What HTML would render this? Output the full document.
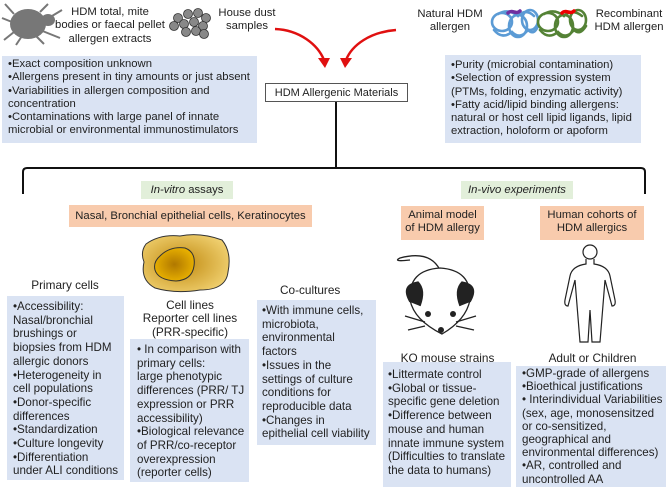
<!DOCTYPE html>
<html><head><meta charset="utf-8"><style>
body{margin:0;width:669px;height:496px;background:#fff;position:relative;overflow:hidden;font-family:"Liberation Sans",Arial,sans-serif;color:#222}
.a{position:absolute;font-size:11.3px;line-height:13.3px;white-space:nowrap}
.b{background:#dae3f3;box-sizing:border-box;font-size:11.6px;line-height:13.7px;overflow:hidden}
.g{background:#e2efda;text-align:center}
.o{background:#f8cbad;text-align:center}
.c{text-align:center}
</style></head><body>
<svg width="669" height="496" style="position:absolute;left:0;top:0">
<defs><radialGradient id="cg" cx="0.45" cy="0.5" r="0.6"><stop offset="0" stop-color="#c08a10"/><stop offset="1" stop-color="#f0d070"/></radialGradient>
<radialGradient id="ng" cx="0.5" cy="0.5" r="0.6"><stop offset="0" stop-color="#b07800"/><stop offset="1" stop-color="#f0b800"/></radialGradient></defs>
<ellipse cx="28" cy="24" rx="18" ry="15" fill="#777"/>
<ellipse cx="48" cy="20" rx="7" ry="6" fill="#777"/>
<g stroke="#777" stroke-width="2" fill="none">
<path d="M14 14 L5 4 M12 22 L2 18 M14 32 L4 40 M22 36 L16 45 M36 36 L44 44 M40 30 L60 38 M40 12 L48 4 M52 16 L62 10"/></g>
<g fill="#888" stroke="#333" stroke-width="0.8">
<circle cx="178" cy="18" r="4.5"/><circle cx="188" cy="14" r="4.5"/><circle cx="198" cy="13" r="4.5"/><circle cx="206" cy="18" r="4.5"/>
<circle cx="174" cy="26" r="4.5"/><circle cx="184" cy="24" r="4.5"/><circle cx="194" cy="22" r="4.5"/><circle cx="203" cy="26" r="4.5"/>
<circle cx="186" cy="32" r="4.5"/><circle cx="196" cy="31" r="4.5"/><circle cx="204" cy="34" r="4.5"/></g>
<g fill="none" stroke-width="2.6" stroke-linecap="round">
<g stroke="#5b9bd5">
<ellipse cx="502" cy="22" rx="10" ry="9"/><ellipse cx="518" cy="26" rx="9" ry="11"/><ellipse cx="530" cy="20" rx="8" ry="10"/>
<path d="M494 30 q8 10 18 2 q8 8 16 -2 q6 6 10 -4 M498 14 q10 -6 20 2 q8 -8 16 0"/></g>
<path d="M508 13 c4 -4 8 2 12 -2" stroke="#7030a0" stroke-width="3.5"/>
<g stroke="#548235">
<ellipse cx="548" cy="22" rx="10" ry="9"/><ellipse cx="564" cy="26" rx="9" ry="11"/><ellipse cx="578" cy="20" rx="8" ry="10"/>
<path d="M540 30 q8 10 18 2 q8 8 16 -2 q6 6 12 -4 M544 14 q10 -6 20 2 q8 -8 18 0"/></g>
<path d="M562 13 c4 -4 8 2 12 -2" stroke="#e00" stroke-width="3.5"/>
</g>
<g fill="none" stroke="#e01010" stroke-width="2.5"><path d="M275 29 C300 30 318 45 324 60"/><path d="M396 30 C370 32 352 45 346 60"/></g>
<polygon points="318,58 330,58 325,68" fill="#e01010"/><polygon points="340,58 352,58 345,68" fill="#e01010"/>
<g fill="none" stroke="#111" stroke-width="2"><path d="M336 102 V168"/><path d="M23 194 V172 Q23 168 27 168 H641 Q645 168 645 172 V194"/></g>
<path d="M146 244 Q160 234 180 236 Q200 232 222 240 Q232 252 228 272 Q226 290 200 290 Q175 294 155 288 Q140 280 144 262 Q140 252 146 244Z" fill="url(#cg)" stroke="#333"/>
<path d="M160 256 Q170 246 185 248 Q196 252 194 266 Q192 280 176 281 Q158 280 155 270 Q153 262 160 256Z" fill="url(#ng)" stroke="#333"/>
<g fill="none" stroke="#222" stroke-width="1.3">
<path d="M440 270 Q430 250 400 258 Q392 262 410 260"/>
<path d="M410 300 Q408 270 440 268 Q472 270 470 300 Q466 320 442 334 Q414 320 410 300Z" fill="#fff"/>
<path d="M410 302 Q400 285 418 282 Q426 290 420 306" fill="#222"/>
<path d="M470 302 Q480 285 462 282 Q454 290 460 306" fill="#222"/>
<path d="M425 322 L405 316 M425 326 L408 330 M456 322 L476 316 M456 326 L474 330"/></g>
<circle cx="428" cy="314" r="3" fill="#222"/><circle cx="453" cy="314" r="3" fill="#222"/><circle cx="441" cy="330" r="3" fill="#222"/>
<g fill="none" stroke="#222" stroke-width="1.2">
<circle cx="590" cy="252" r="7"/>
<path d="M586 259 V264 Q572 266 570 276 L565 300 Q564 306 568 306 L575 280 L577 305 L580 342 L588 342 L590 310 L592 342 L600 342 L603 305 L605 280 L612 306 Q616 306 615 300 L610 276 Q608 266 594 264 V259"/></g>
</svg>
<div class="a c" style="left:55px;top:6px;width:110px">HDM total, mite<br>bodies or faecal pellet<br>allergen extracts</div>
<div class="a c" style="left:212px;top:7px;width:70px">House dust<br>samples</div>
<div class="a c" style="left:415px;top:8px;width:70px">Natural HDM<br>allergen</div>
<div class="a c" style="left:590px;top:8px;width:78px">Recombinant<br>HDM allergen</div>
<div class="a b" style="left:2px;top:56px;width:255px;height:87px;padding:2px 6px;font-size:11.3px;line-height:13.3px">•Exact composition unknown<br>•Allergens present in tiny amounts or just absent<br>•Variabilities in allergen composition and<br>concentration<br>•Contaminations with large panel of innate<br>microbial or environmental immunostimulators</div>
<div class="a c" style="left:265px;top:83px;width:143px;height:19px;border:1px solid #555;line-height:19px;box-sizing:border-box;font-size:11px">HDM Allergenic Materials</div>
<div class="a b" style="left:445px;top:55px;width:196px;height:88px;padding:4px 6px;font-size:11.3px;line-height:13.3px">•Purity (microbial contamination)<br>•Selection of expression system<br>(PTMs, folding, enzymatic activity)<br>•Fatty acid/lipid binding allergens:<br>natural or host cell lipid ligands, lipid<br>extraction, holoform or apoform</div>
<div class="a g" style="left:141px;top:181px;width:92px;height:18px;line-height:18px"><i>In-vitro</i> assays</div>
<div class="a g" style="left:461px;top:181px;width:112px;height:18px;line-height:18px"><i>In-vivo experiments</i></div>
<div class="a o" style="left:69px;top:205px;width:243px;height:22px;line-height:22px">Nasal, Bronchial epithelial cells, Keratinocytes</div>
<div class="a o" style="left:401px;top:206px;width:83px;height:34px;padding-top:3px;box-sizing:border-box">Animal model<br>of HDM allergy</div>
<div class="a o" style="left:540px;top:206px;width:104px;height:34px;padding-top:3px;box-sizing:border-box">Human cohorts of<br>HDM allergics</div>
<div class="a c" style="left:20px;top:279px;width:90px;font-size:11.8px">Primary cells</div>
<div class="a b" style="left:7px;top:296px;width:117px;height:184px;padding:4px 0 0 6px">•Accessibility:<br>Nasal/bronchial<br>brushings or<br>biopsies from HDM<br>allergic donors<br>•Heterogeneity in<br>cell populations<br>•Donor-specific<br>differences<br>•Standardization<br>•Culture longevity<br>•Differentiation<br>under ALI conditions</div>
<div class="a c" style="left:130px;top:299px;width:120px;font-size:11.8px">Cell lines<br>Reporter cell lines<br>(PRR-specific)</div>
<div class="a b" style="left:130px;top:339px;width:119px;height:143px;padding:4px 0 0 7px">• In comparison with<br>primary cells:<br>large phenotypic<br>differences (PRR/ TJ<br>expression or PRR<br>accessibility)<br>•Biological relevance<br>of PRR/co-receptor<br>overexpression<br>(reporter cells)</div>
<div class="a" style="left:280px;top:284px;font-size:11.8px">Co-cultures</div>
<div class="a b" style="left:257px;top:300px;width:119px;height:145px;padding:4px 0 0 5px">•With immune cells,<br>microbiota,<br>environmental<br>factors<br>•Issues in the<br>settings of culture<br>conditions for<br>reproducible data<br>•Changes in<br>epithelial cell viability</div>
<div class="a c" style="left:385px;top:352px;width:125px;font-size:11.8px">KO mouse strains</div>
<div class="a b" style="left:383px;top:362px;width:128px;height:125px;padding:6px 0 0 5px">•Littermate control<br>•Global or tissue-<br>specific gene deletion<br>•Difference between<br>mouse and human<br>innate immune system<br>(Difficulties to translate<br>the data to humans)</div>
<div class="a c" style="left:530px;top:352px;width:125px;font-size:11.8px">Adult or Children</div>
<div class="a b" style="left:516px;top:366px;width:150px;height:121px;padding:1px 0 0 6px;line-height:13.2px">•GMP-grade of allergens<br>•Bioethical justifications<br>• Interindividual Variabilities<br>(sex, age, monosensitzed<br>or co-sensitized,<br>geographical and<br>environmental differences)<br>•AR, controlled and<br>uncontrolled AA</div>
</body></html>
